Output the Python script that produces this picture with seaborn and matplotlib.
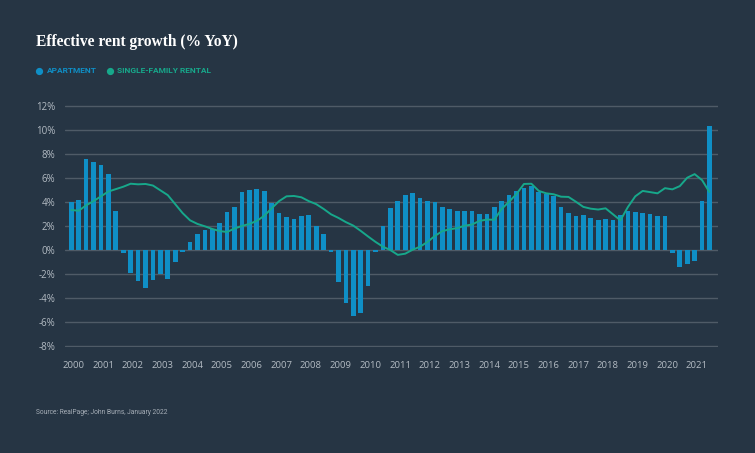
import numpy as np
import pandas as pd
import matplotlib
matplotlib.use("Agg")
import matplotlib.pyplot as plt
from matplotlib.lines import Line2D
import seaborn as sns

# quarterly data, 2000 Q1 .. 2021 Q3
years = list(range(2000, 2022))
quarters = [f"{y} Q{q}" for y in years for q in range(1, 5)][:87]

apartment = [
    4.0, 4.17, 7.58, 7.39,      # 2000
    7.11, 6.39, 3.25, -0.2,     # 2001
    -1.89, -2.53, -3.14, -2.44, # 2002
    -1.97, -2.39, -1.0, -0.11,  # 2003
    0.69, 1.36, 1.69, 1.8,      # 2004
    2.3, 3.2, 3.6, 4.83,        # 2005
    5.0, 5.1, 4.95, 3.95,       # 2006
    3.1, 2.8, 2.6, 2.85,        # 2007
    2.95, 2.0, 1.35, -0.15,     # 2008
    -2.6, -4.4, -5.5, -5.25,    # 2009
    -3.0, -0.1, 2.0, 3.5,       # 2010
    4.15, 4.65, 4.75, 4.4,      # 2011
    4.15, 4.0, 3.6, 3.45,       # 2012
    3.25, 3.3, 3.25, 3.0,       # 2013
    3.05, 3.6, 4.1, 4.6,        # 2014
    4.95, 5.2, 5.35, 4.9,       # 2015
    4.7, 4.5, 3.65, 3.1,        # 2016
    2.9, 2.95, 2.7, 2.5,        # 2017
    2.65, 2.5, 2.95, 3.3,       # 2018
    3.2, 3.1, 3.0, 2.85,        # 2019
    2.85, -0.2, -1.4, -1.15,    # 2020
    -0.9, 4.1, 10.35,           # 2021
]

single_family = [
    3.36, 3.3, 3.75, 4.1,
    4.5, 4.9, 5.1, 5.3,
    5.55, 5.5, 5.53, 5.4,
    5.0, 4.6, 3.85, 3.1,
    2.5, 2.2, 2.0, 1.78,
    1.6, 1.53, 1.82, 2.03,
    2.2, 2.45, 2.88, 3.5,
    4.1, 4.5, 4.53, 4.42,
    4.1, 3.85, 3.45, 3.0,
    2.7, 2.35, 2.06, 1.62,
    1.15, 0.7, 0.3, 0.02,
    -0.38, -0.28, 0.05, 0.3,
    0.7, 1.2, 1.6, 1.75,
    1.85, 2.05, 2.15, 2.45,
    2.56, 2.55, 3.45, 4.05,
    4.7, 5.53, 5.55, 4.95,
    4.75, 4.67, 4.47, 4.45,
    4.05, 3.62, 3.47, 3.4,
    3.5, 3.0, 2.5, 3.6,
    4.5, 4.95, 4.85, 4.75,
    5.18, 5.08, 5.35, 6.05,
    6.35, 5.85, 4.85,
]

y_ticks = [-8, -6, -4, -2, 0, 2, 4, 6, 8, 10, 12]
year_labels = [str(y) for y in years]

df = pd.DataFrame({
    "pos": np.arange(len(quarters)),
    "quarter": quarters,
    "apartment": apartment,
    "sfr": single_family,
})

BG = "#263544"
GRID = "#4f5b67"
TICK = "#b3bbc3"
BLUE = "#0f8fc6"
TEAL = "#17a88b"

sns.set_style("dark", {"axes.facecolor": BG, "figure.facecolor": BG})
plt.rcParams["font.family"] = ["Open Sans", "DejaVu Sans"]

fig = plt.figure(figsize=(7.55, 4.53), dpi=100)
ax = fig.add_axes([0.0861, 0.2329, 0.8649, 0.535])

sns.barplot(data=df, x="pos", y="apartment", native_scale=True, color=BLUE,
            saturation=1, width=0.63, linewidth=0, ax=ax, zorder=3)
sns.lineplot(data=df, x="pos", y="sfr", color=TEAL, linewidth=1.4, ax=ax, zorder=4)

ax.set_xlim(-0.85, 87.15)
ax.set_ylim(-8.1, 12.1)
ax.set_yticks(y_ticks)
ax.set_yticklabels([f"{v}%" for v in y_ticks])
ax.set_xticks([4 * k + 0.3 for k in range(len(years))])
ax.set_xticklabels(year_labels)
ax.set_xlabel("")
ax.set_ylabel("")

ax.grid(False)
for v in y_ticks:
    ax.axhline(v, color=GRID, linewidth=1.0, zorder=1)
for s in ax.spines.values():
    s.set_visible(False)
ax.tick_params(axis="y", length=0, pad=7, labelsize=7, labelcolor=TICK)
ax.tick_params(axis="x", length=0, pad=10, labelsize=6.8, labelcolor=TICK)

# title
fig.text(36 / 755, 1 - 42 / 453, "Effective rent growth (% YoY)",
         family="Liberation Serif", weight="bold", size=11.2, color="white",
         va="center", ha="left")

# legend
ly = 1 - 70.7 / 453
for dot_x, txt_x, label, col in [(39, 46.5, "APARTMENT", BLUE),
                                 (110, 117.5, "SINGLE-FAMILY RENTAL", TEAL)]:
    fig.add_artist(Line2D([dot_x / 755], [ly], transform=fig.transFigure,
                          marker="o", markersize=4.2, color=col, linestyle=""))
    fig.text(txt_x / 755, ly, label, family="Roboto", weight="bold",
             size=6, color=col, va="center", ha="left")

# source
fig.text(36 / 755, 1 - 412.3 / 453, "Source: RealPage; John Burns, January 2022",
         family="Roboto", size=4.8, color="#a7afb8",
         va="center", ha="left")

fig.savefig("out.png", dpi=100, facecolor=BG)
